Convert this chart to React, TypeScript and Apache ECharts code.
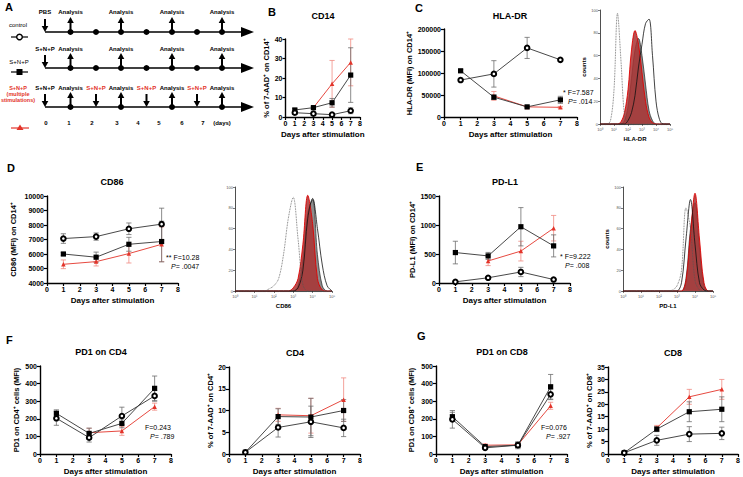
import React, { useEffect, useRef } from "react";
import * as echarts from "echarts";

const FONT = "'Liberation Sans', Arial, sans-serif";
const RED = "#e3342a";
const RED_ERR = "#f08a82";
const DARK = "#333333";
const GRAY_ERR = "#6d6d6d";

const days = [1, 3, 5, 7];
const dayTicks = ["0", "1", "2", "3", "4", "5", "6", "7", "(days)"];

// B: % 7-AAD+ on CD14+
const bCtrl = [2.2, 1.7, 1.2, 3.2];
const bCtrlErr = [0.8, 0.6, 0.5, 1.5];
const bSnp = [3.6, 4.8, 7.3, 21.5];
const bSnpErr = [0.8, 0.6, 2.2, 14];
const bMulti = [null, 4.8, 17, 28];
const bMultiErr = [null, 0.6, 12, 12];

// C: HLA-DR MFI
const cCtrl = [84000, 98000, 157000, 130000];
const cCtrlErr = [4000, 30000, 24000, 3000];
const cSnp = [105000, 45000, 23000, 39000];
const cSnpErr = [3000, 5000, 2000, 8000];
const cMulti = [null, 48000, 23000, 22000];
const cMultiErr = [null, 10000, 2000, 2000];

// D: CD86 MFI
const dCtrl = [7065, 7200, 7740, 8060];
const dCtrlErr = [330, 250, 400, 1100];
const dSnp = [6000, 5780, 6670, 6860];
const dSnpErr = [100, 350, 480, 1400];
const dMulti = [5290, 5475, 6030, 6670];
const dMultiErr = [300, 300, 650, 1200];

// E: PD-L1 MFI
const eCtrl = [20, 90, 190, 60];
const eCtrlErr = [10, 20, 80, 15];
const eSnp = [525, 467, 970, 640];
const eSnpErr = [195, 60, 330, 190];
const eMulti = [null, 380, 550, 945];
const eMultiErr = [null, 80, 170, 220];

// F: PD1 on CD4
const fCtrl = [203, 93, 216, 330];
const fCtrlErr = [40, 25, 50, 30];
const fSnp = [231, 117, 174, 373];
const fSnpErr = [20, 30, 25, 70];
const fMulti = [null, 121, 131, 269];
const fMultiErr = [null, 25, 25, 20];

// F right: % 7-AAD+ on CD4+
const f2Ctrl = [0.4, 6.1, 7.4, 6.0];
const f2CtrlErr = [0.1, 2.2, 3.6, 2.0];
const f2Snp = [0.4, 8.6, 8.5, 10.0];
const f2SnpErr = [0.1, 1.8, 4.3, 2.5];
const f2Multi = [null, 9.0, 8.8, 12.5];
const f2MultiErr = [null, 1.5, 4.0, 5.0];

// G: PD1 on CD8
const gCtrl = [197, 35, 50, 339];
const gCtrlErr = [50, 8, 15, 30];
const gSnp = [212, 42, 50, 382];
const gSnpErr = [25, 8, 20, 70];
const gMulti = [null, 50, 52, 274];
const gMultiErr = [null, 8, 10, 20];

// G right: % 7-AAD+ on CD8+
const g2Ctrl = [0.5, 5.5, 8.0, 8.3];
const g2CtrlErr = [0.2, 2.0, 3.0, 2.5];
const g2Snp = [0.5, 10.0, 17.0, 18.0];
const g2SnpErr = [0.2, 1.0, 4.0, 5.0];
const g2Multi = [null, 10.5, 23.0, 26.0];
const g2MultiErr = [null, 1.0, 3.0, 4.0];

// Histograms (x in decades of log fluorescence, y = % of mode)
const histX = [0, 0.25, 0.5, 0.75, 1, 1.25, 1.5, 1.75, 2, 2.25, 2.5, 2.75, 3, 3.25, 3.5, 3.75, 4, 4.25, 4.5, 4.75, 5];
const hlaDotted = [0, 0, 0, 3, 30, 97, 55, 8, 1, 0, 0, 0, 0, 0, 0, 0, 0, 0, 0, 0, 0];
const hlaRed = [0, 0, 0, 0, 0, 0, 2, 10, 30, 65, 82, 70, 45, 20, 6, 1, 0, 0, 0, 0, 0];
const hlaGray = [0, 0, 0, 0, 0, 0, 0, 3, 15, 40, 65, 75, 60, 35, 12, 3, 0, 0, 0, 0, 0];
const hlaSolid = [0, 0, 0, 0, 0, 0, 0, 0, 3, 10, 25, 50, 70, 88, 92, 60, 20, 4, 0, 0, 0];

const cd86Dotted = [0, 0, 0, 0, 0, 0, 0, 2, 5, 12, 35, 70, 90, 50, 6, 0, 0, 0, 0, 0, 0];
const cd86Red = [0, 0, 0, 0, 0, 0, 0, 0, 0, 0, 0, 0, 3, 12, 45, 92, 65, 12, 1, 0, 0];
const cd86Gray = [0, 0, 0, 0, 0, 0, 0, 0, 0, 0, 0, 0, 0, 5, 30, 75, 88, 35, 5, 0, 0];
const cd86Solid = [0, 0, 0, 0, 0, 0, 0, 0, 0, 0, 0, 0, 0, 3, 20, 70, 89, 60, 25, 5, 0];

const pdl1Dotted = [0, 0, 0, 0, 0, 0, 0, 0, 0, 0, 0, 1, 5, 20, 80, 60, 10, 1, 0, 0, 0];
const pdl1Red = [0, 0, 0, 0, 0, 0, 0, 0, 0, 0, 0, 0, 0, 0, 10, 55, 94, 50, 8, 0, 0];
const pdl1Gray = [0, 0, 0, 0, 0, 0, 0, 0, 0, 0, 0, 0, 0, 0, 12, 60, 85, 40, 5, 0, 0];
const pdl1Solid = [0, 0, 0, 0, 0, 0, 0, 0, 0, 0, 0, 0, 0, 8, 50, 88, 45, 8, 1, 0, 0];

const decadeLabels = ["10⁰", "10¹", "10²", "10³", "10⁴", "10⁵"];

type G = { left: number; top: number; width: number; height: number };

const lineGrids: G[] = [
  { left: 285.5, top: 39, width: 74.5, height: 78 }, // B
  { left: 444, top: 29, width: 133, height: 88 }, // C
  { left: 47, top: 196, width: 131, height: 87 }, // D
  { left: 439, top: 196, width: 131, height: 87 }, // E
  { left: 40, top: 366, width: 131, height: 88 }, // F1
  { left: 229, top: 367, width: 131, height: 87 }, // F2
  { left: 436, top: 366, width: 131, height: 88 }, // G1
  { left: 608, top: 367, width: 131, height: 87 }, // G2
];
const histGrids: G[] = [
  { left: 600, top: 10, width: 70, height: 114 }, // HLA-DR
  { left: 235, top: 187, width: 97, height: 104 }, // CD86
  { left: 623, top: 187, width: 90, height: 104 }, // PD-L1
];

function pairs(vals: (number | null)[]) {
  const out: number[][] = [];
  vals.forEach((v, i) => {
    if (v !== null) out.push([days[i], v]);
  });
  return out;
}
function errs(vals: (number | null)[], e: (number | null)[]) {
  const out: number[][] = [];
  vals.forEach((v, i) => {
    if (v !== null && e[i] !== null) out.push([days[i], v - (e[i] as number), v + (e[i] as number)]);
  });
  return out;
}

function errSeries(axisIdx: number, data: number[][], color: string) {
  return {
    type: "custom",
    xAxisIndex: axisIdx,
    yAxisIndex: axisIdx,
    data,
    z: 2,
    silent: true,
    renderItem: (params: any, api: any) => {
      const x = api.value(0);
      const lo = api.coord([x, api.value(1)]);
      const hi = api.coord([x, api.value(2)]);
      const w = 2.6;
      const st = { stroke: color, lineWidth: 0.8 };
      return {
        type: "group",
        children: [
          { type: "line", shape: { x1: lo[0], y1: lo[1], x2: hi[0], y2: hi[1] }, style: st },
          { type: "line", shape: { x1: hi[0] - w, y1: hi[1], x2: hi[0] + w, y2: hi[1] }, style: st },
          { type: "line", shape: { x1: lo[0] - w, y1: lo[1], x2: lo[0] + w, y2: lo[1] }, style: st },
        ],
      };
    },
  };
}

function groupSeries(axisIdx: number, ctrl: any[], ctrlE: any[], snp: any[], snpE: any[], multi: any[], multiE: any[]) {
  return [
    errSeries(axisIdx, errs(multi, multiE), RED_ERR),
    errSeries(axisIdx, errs(snp, snpE), GRAY_ERR),
    errSeries(axisIdx, errs(ctrl, ctrlE), GRAY_ERR),
    {
      type: "line",
      xAxisIndex: axisIdx,
      yAxisIndex: axisIdx,
      data: pairs(multi),
      symbol: "triangle",
      symbolSize: 4.5,
      lineStyle: { color: RED, width: 0.9 },
      itemStyle: { color: RED },
      z: 3,
    },
    {
      type: "line",
      xAxisIndex: axisIdx,
      yAxisIndex: axisIdx,
      data: pairs(snp),
      symbol: "rect",
      symbolSize: 5.2,
      lineStyle: { color: DARK, width: 0.9 },
      itemStyle: { color: "#000" },
      z: 4,
    },
    {
      type: "line",
      xAxisIndex: axisIdx,
      yAxisIndex: axisIdx,
      data: pairs(ctrl),
      symbol: "emptyCircle",
      symbolSize: 4.6,
      showSymbol: true,
      lineStyle: { color: DARK, width: 0.9 },
      itemStyle: { color: "#000", borderColor: "#000", borderWidth: 1.1 },
      z: 5,
    },
  ];
}

function histSeries(axisIdx: number, dotted: number[], red: number[], gray: number[], solid: number[]) {
  const mk = (d: number[]) => histX.map((x, i) => [x, d[i]]);
  return [
    {
      type: "line", xAxisIndex: axisIdx, yAxisIndex: axisIdx, data: mk(gray), smooth: 0.35, symbol: "none",
      lineStyle: { color: "#222", width: 0.7 }, areaStyle: { color: "#8c8c8c", opacity: 1 }, z: 2,
    },
    {
      type: "line", xAxisIndex: axisIdx, yAxisIndex: axisIdx, data: mk(red), smooth: 0.35, symbol: "none",
      lineStyle: { color: "#e00000", width: 0.9 }, areaStyle: { color: "#a83232", opacity: 0.85 }, z: 3,
    },
    {
      type: "line", xAxisIndex: axisIdx, yAxisIndex: axisIdx, data: mk(solid), smooth: 0.35, symbol: "none",
      lineStyle: { color: "#111", width: 0.8 }, z: 4,
    },
    {
      type: "line", xAxisIndex: axisIdx, yAxisIndex: axisIdx, data: mk(dotted), smooth: 0.35, symbol: "none",
      lineStyle: { color: "#555", width: 0.8, type: "dotted" }, z: 4,
    },
  ];
}

function buildOption() {
  const grids: any[] = [...lineGrids, ...histGrids];
  const xAxes: any[] = [];
  const yAxes: any[] = [];
  const axisLine = { lineStyle: { color: "#000", width: 1.4 } };
  const axisTick = { inside: false, length: 3, lineStyle: { color: "#000", width: 1.2 } };
  const lbl = {
    color: "#000", fontSize: 7, fontWeight: "bold", fontFamily: FONT, margin: 3,
    formatter: (v: number) => String(v),
  };

  const yCfg: [number, number, number, string, number][] = [
    [0, 40, 10, "% of 7-AAD⁺ on CD14⁺", 12],
    [0, 200000, 50000, "HLA-DR (MFI) on CD14⁺", 31],
    [4000, 10000, 1000, "CD86 (MFI) on CD14⁺", 30],
    [0, 1500, 500, "PD-L1 (MFI) on CD14⁺", 23],
    [0, 500, 100, "PD1 on CD4⁺ cells (MFI)", 20],
    [0, 20, 5, "% of 7-AAD⁺ on CD4⁺", 15],
    [0, 500, 100, "PD1 on CD8⁺ cells (MFI)", 21],
    [0, 35, 5, "% of 7-AAD⁺ on CD8⁺", 15],
  ];
  lineGrids.forEach((_, i) => {
    xAxes.push({
      type: "value", gridIndex: i, min: 0, max: 8, interval: 1,
      axisLine, axisTick, axisLabel: lbl, splitLine: { show: false },
      name: "Days after stimulation",
      nameLocation: "middle", nameGap: 13,
      nameTextStyle: { color: "#000", fontSize: 8, fontWeight: "bold", fontFamily: FONT },
    });
    const [mn, mx, it, nm, gap] = yCfg[i];
    yAxes.push({
      type: "value", gridIndex: i, min: mn, max: mx, interval: it,
      axisLine: { show: true, ...axisLine }, axisTick: { show: true, ...axisTick }, axisLabel: lbl,
      splitLine: { show: false },
      name: nm, nameLocation: "middle", nameGap: gap, nameRotate: 90,
      nameTextStyle: { color: "#000", fontSize: 7.5, fontWeight: "bold", fontFamily: FONT },
    });
  });
  const histNames = ["HLA-DR", "CD86", "PD-L1"];
  histGrids.forEach((_, j) => {
    const gi = lineGrids.length + j;
    xAxes.push({
      type: "value", gridIndex: gi, min: 0, max: 5, interval: 1,
      axisLine: { lineStyle: { color: "#222", width: 0.8 } },
      axisTick: { length: 2, lineStyle: { color: "#222", width: 0.6 } },
      minorTick: { show: true, splitNumber: 9, length: 1.2, lineStyle: { color: "#444", width: 0.4 } },
      axisLabel: { color: "#555", fontSize: 4, fontFamily: FONT, margin: 3, formatter: (v: number) => decadeLabels[v] ?? "" },
      splitLine: { show: false },
      name: histNames[j], nameLocation: "middle", nameGap: 12,
      nameTextStyle: { color: "#000", fontSize: 6, fontWeight: "bold", fontFamily: FONT },
    });
    yAxes.push({
      type: "value", gridIndex: gi, min: 0, max: 100, interval: 20,
      axisLine: { show: true, lineStyle: { color: "#222", width: 0.8 } },
      axisTick: { show: true, length: 2, lineStyle: { color: "#222", width: 0.6 } },
      axisLabel: { color: "#555", fontSize: 4, fontFamily: FONT, margin: 2 },
      splitLine: { show: false },
      name: j === 1 ? "" : "counts", nameLocation: "middle", nameGap: 10, nameRotate: 90,
      nameTextStyle: { color: "#000", fontSize: 6, fontWeight: "bold", fontFamily: FONT },
    });
  });

  const series: any[] = [
    ...groupSeries(0, bCtrl, bCtrlErr, bSnp, bSnpErr, bMulti, bMultiErr),
    ...groupSeries(1, cCtrl, cCtrlErr, cSnp, cSnpErr, cMulti, cMultiErr),
    ...groupSeries(2, dCtrl, dCtrlErr, dSnp, dSnpErr, dMulti, dMultiErr),
    ...groupSeries(3, eCtrl, eCtrlErr, eSnp, eSnpErr, eMulti, eMultiErr),
    ...groupSeries(4, fCtrl, fCtrlErr, fSnp, fSnpErr, fMulti, fMultiErr),
    ...groupSeries(5, f2Ctrl, f2CtrlErr, f2Snp, f2SnpErr, f2Multi, f2MultiErr),
    ...groupSeries(6, gCtrl, gCtrlErr, gSnp, gSnpErr, gMulti, gMultiErr),
    ...groupSeries(7, g2Ctrl, g2CtrlErr, g2Snp, g2SnpErr, g2Multi, g2MultiErr),
    ...histSeries(8, hlaDotted, hlaRed, hlaGray, hlaSolid),
    ...histSeries(9, cd86Dotted, cd86Red, cd86Gray, cd86Solid),
    ...histSeries(10, pdl1Dotted, pdl1Red, pdl1Gray, pdl1Solid),
  ];

  // ---------- graphics: panel letters, titles, stats, schematic A ----------
  const g: any[] = [];
  const txt = (x: number, y: number, text: string, size: number, opts: any = {}) =>
    g.push({
      type: "text", x, y, silent: true,
      style: {
        text, fontSize: size, fontFamily: FONT, fontWeight: opts.weight ?? "bold",
        fill: opts.fill ?? "#000", align: opts.align ?? "center", verticalAlign: "middle",
      },
    });

  // panel letters
  txt(5, 7, "A", 11, { align: "left" });
  txt(268, 12, "B", 11, { align: "left" });
  txt(415, 8, "C", 11, { align: "left" });
  txt(7, 168, "D", 11, { align: "left" });
  txt(416, 167, "E", 11, { align: "left" });
  txt(6, 340, "F", 11, { align: "left" });
  txt(417, 336, "G", 11, { align: "left" });

  // chart titles
  txt(323, 16, "CD14", 9);
  txt(510, 16, "HLA-DR", 9);
  txt(112, 182, "CD86", 9);
  txt(505, 182, "PD-L1", 9);
  txt(101, 352, "PD1 on CD4", 9);
  txt(295, 353, "CD4", 9);
  txt(502, 352, "PD1 on CD8", 9);
  txt(673, 353, "CD8", 9);

  // statistics
  const stat = (x: number, y: number, a: string, b: string) => {
    txt(x, y, a, 7, { weight: "normal", align: "left" });
    g.push({
      type: "text", x: x + 5, y: y + 9, silent: true,
      style: {
        text: "{i|P}= " + b, fontSize: 7, fontFamily: FONT, fill: "#000", verticalAlign: "middle",
        rich: { i: { fontStyle: "italic", fontSize: 7, fontFamily: FONT } },
      },
    });
  };
  stat(563, 92, "* F=7.587", ".014");
  stat(166, 257, "** F=10.28", ".0047");
  stat(560, 256, "* F=9.222", ".008");
  stat(145, 427, "F=0.243", ".789");
  stat(541, 427, "F=0.076", ".927");

  // ---------- schematic A ----------
  const ex = [45, 70.5, 96, 121, 146.5, 172, 197, 222];
  const rowY = [32, 68, 107];
  const lblY = [12, 49, 88];
  const line = (x1: number, y1: number, x2: number, y2: number, w: number, c = "#000") =>
    g.push({ type: "line", silent: true, shape: { x1, y1, x2, y2 }, style: { stroke: c, lineWidth: w } });
  const poly = (pts: number[][], c = "#000") =>
    g.push({ type: "polygon", silent: true, shape: { points: pts }, style: { fill: c } });
  const dot = (x: number, y: number) =>
    g.push({ type: "circle", silent: true, shape: { cx: x, cy: y, r: 3 }, style: { fill: "#000" } });
  const upArrow = (x: number, y: number) => {
    line(x, y, x, y - 10, 2);
    poly([[x - 3.3, y - 9], [x + 3.3, y - 9], [x, y - 15]]);
  };
  const downArrow = (x: number, y: number, top: number) => {
    line(x, top, x, y - 5, 2);
    poly([[x - 3.3, y - 6], [x + 3.3, y - 6], [x, y]]);
  };

  rowY.forEach((y, r) => {
    line(45, y, 243, y, 1.6);
    poly([[241, y - 5], [241, y + 5], [254, y]]);
    downArrow(45, y, y - 13);
    txt(45, lblY[r], r === 0 ? "PBS" : "S+N+P", 6);
    for (let k = 1; k < 8; k++) {
      const x = ex[k];
      if (k % 2 === 1) {
        dot(x, y);
        upArrow(x, y);
        txt(x, lblY[r], "Analysis", 6);
      } else if (r < 2) {
        dot(x, y);
      } else {
        downArrow(x, y, y - 13);
        txt(x, lblY[r], "S+N+P", 6, { fill: RED });
      }
    }
  });

  // legend of A
  txt(18, 25, "control", 6, { weight: "normal" });
  line(11, 37, 28, 37, 1.2);
  g.push({ type: "circle", silent: true, shape: { cx: 19.5, cy: 37, r: 2.8 }, style: { fill: "#fff", stroke: "#000", lineWidth: 1.4 } });
  txt(19, 62, "S+N+P", 6, { weight: "normal" });
  line(11, 72, 28, 72, 1.2);
  g.push({ type: "rect", silent: true, shape: { x: 16.5, y: 69, width: 6, height: 6 }, style: { fill: "#000" } });
  txt(18, 88, "S+N+P", 5.5, { fill: RED });
  txt(18, 94, "(multiple", 5.5, { fill: RED });
  txt(18, 100, "stimulations)", 5.5, { fill: RED });
  line(11, 128, 29, 128, 1.2, RED);
  poly([[16.5, 130], [23.5, 130], [20, 124.5]], RED);

  // day axis of A
  const dayX = [46, 69, 92, 117, 138, 159, 182, 203, 222];
  dayTicks.forEach((t, i) => txt(dayX[i], 123, t, 6));

  return {
    animation: false,
    backgroundColor: "#fff",
    textStyle: { fontFamily: FONT },
    grid: grids.map((gr) => ({ ...gr, containLabel: false })),
    xAxis: xAxes,
    yAxis: yAxes,
    series,
    graphic: g,
  };
}

export default function App() {
  const ref = useRef<HTMLDivElement>(null);
  useEffect(() => {
    if (!ref.current) return;
    const chart = echarts.init(ref.current, undefined, { renderer: "svg" });
    chart.setOption(buildOption() as any);
    return () => chart.dispose();
  }, []);
  return (
    <div
      ref={ref}
      style={{ position: "fixed", left: 0, top: 0, width: 743, height: 477, background: "#fff" }}
    />
  );
}
